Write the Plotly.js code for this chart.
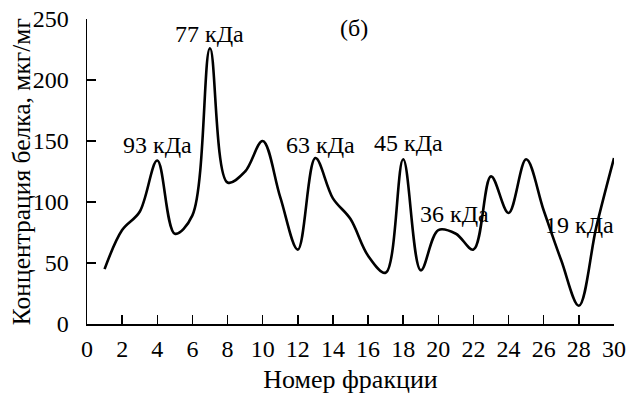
<!DOCTYPE html>
<html>
<head>
<meta charset="utf-8">
<script src="https://cdn.plot.ly/plotly-3.0.1.min.js"></script>
<style>html,body{margin:0;padding:0;background:#fff}#chart{width:628px;height:395px}</style>
</head>
<body>
<div id="chart"></div>
<script>
const fractions = [1,2,3,4,5,6,7,8,9,10,11,12,13,14,15,16,17,18,19,20,21,22,23,24,25,26,27,28,29,30];
const concentration = [45,77,92,134,74,89,226,116,125,150,104,61,136,103,86,56,42,135,44,77,74,61,121,91,135,93,52,15,80,136];
const peakLabels = ["93 кДа","77 кДа","63 кДа","45 кДа","36 кДа","19 кДа"];
const peakLabelX = [4.0, 6.96, 13.27, 18.28, 20.93, 28.03];
const peakLabelY = [147, 238, 147, 148, 90, 81];
const panelLabel = "(б)";
const xTitle = "Номер фракции";
const yTitle = "Концентрация белка, мкг/мг";
const xTicks = [0,2,4,6,8,10,12,14,16,18,20,22,24,26,28,30];
const yTicks = [0,50,100,150,200,250];

const font = {family: "Liberation Serif, Times New Roman, serif", size: 24, color: "#000"};
const xTitleFont = {family: "Liberation Serif, Times New Roman, serif", size: 26, color: "#000"};
const yTitleFont = {family: "Liberation Serif, Times New Roman, serif", size: 25.5, color: "#000"};

const annotations = peakLabels.map((t, i) => ({
  x: peakLabelX[i], y: peakLabelY[i], xref: "x", yref: "y", text: t,
  showarrow: false, font: font, xanchor: "center", yanchor: "middle"
}));
annotations.push({x: 15.18, y: 243, xref: "x", yref: "y", text: panelLabel, showarrow: false, font: font, xanchor: "center", yanchor: "middle"});
annotations.push({x: -0.124, y: 0.5, xref: "paper", yref: "paper", text: yTitle, textangle: -90,
  showarrow: false, font: yTitleFont, xanchor: "center", yanchor: "middle"});

const trace = {
  x: fractions, y: concentration, type: "scatter", mode: "lines",
  line: {color: "#000", width: 2.6, shape: "spline", smoothing: 1},
  hoverinfo: "skip"
};

const layout = {
  width: 628, height: 395,
  margin: {l: 86.5, r: 13.8, t: 18.7, b: 71.3},
  paper_bgcolor: "#fff", plot_bgcolor: "#fff",
  font: font,
  showlegend: false,
  xaxis: {
    range: [0, 30], tickvals: xTicks, ticktext: xTicks.map(String),
    ticks: "inside", ticklen: 9, tickwidth: 1.5, tickcolor: "#000",
    showline: true, linecolor: "#000", linewidth: 1.5, ticklabelstandoff: 3,
    showgrid: false, zeroline: false, tickfont: font,
    title: {text: xTitle, font: xTitleFont, standoff: 8}
  },
  yaxis: {
    range: [0, 250], tickvals: yTicks, ticktext: yTicks.map(String),
    ticks: "inside", ticklen: 9, tickwidth: 1.5, tickcolor: "#000",
    showline: true, linecolor: "#000", linewidth: 1.5, ticklabelstandoff: 12,
    showgrid: false, zeroline: false, tickfont: font
  },
  annotations: annotations
};

Plotly.newPlot("chart", [trace], layout, {displayModeBar: false, staticPlot: true});
</script>
</body>
</html>
